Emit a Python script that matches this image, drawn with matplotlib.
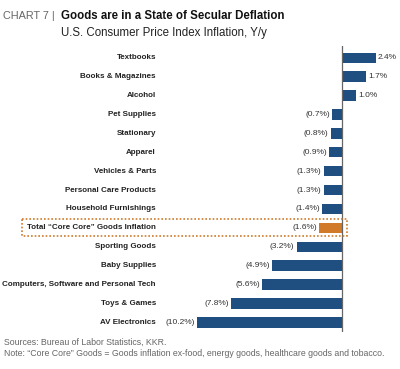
import matplotlib
matplotlib.use("Agg")
import matplotlib.pyplot as plt
import matplotlib.transforms as mtransforms
from matplotlib.patches import Rectangle

plt.rcParams['font.family'] = ['Liberation Sans', 'DejaVu Sans']

categories = ["Textbooks", "Books & Magazines", "Alcohol", "Pet Supplies", "Stationary",
              "Apparel", "Vehicles & Parts", "Personal Care Products", "Household Furnishings",
              "Total \u201cCore Core\u201d Goods Inflation", "Sporting Goods", "Baby Supplies",
              "Computers, Software and Personal Tech", "Toys & Games", "AV Electronics"]
values = [2.4, 1.7, 1.0, -0.7, -0.8, -0.9, -1.3, -1.3, -1.4, -1.6, -3.2, -4.9, -5.6, -7.8, -10.2]
highlight = "Total \u201cCore Core\u201d Goods Inflation"

W, H = 400, 369
fig = plt.figure(figsize=(W / 100, H / 100), dpi=100)
ax_left, ax_right, ax_top, ax_bot = 160, 395, 46, 332
ax = fig.add_axes([ax_left / W, 1 - ax_bot / H, (ax_right - ax_left) / W, (ax_bot - ax_top) / H])

blue = "#1f4e80"
orange = "#d07a2a"
pos = list(range(len(categories)))
colors = [orange if c == highlight else blue for c in categories]
ax.barh(pos, values, height=0.55, color=colors, edgecolor="none", zorder=2)

scale = 14.2  # px per percent
zero_px = 342
ax.set_xlim((ax_left - zero_px) / scale, (ax_right - zero_px) / scale)
ax.set_ylim(14.51, -0.62)
ax.axvline(0, color="#666666", lw=0.9, zorder=3)
for s in ax.spines.values():
    s.set_visible(False)
ax.set_xticks([])
ax.set_yticks([])

trans = mtransforms.blended_transform_factory(fig.transFigure, ax.transData)
for p, c, v in zip(pos, categories, values):
    ax.text(156 / W, p, c, transform=trans, ha="right", va="center",
            fontsize=5.8, fontweight="bold", color="#222222")
    if v >= 0:
        ax.text(v + 0.12, p, f"{v:.1f}%", ha="left", va="center", fontsize=6, color="#333333")
    else:
        ax.text(v - 0.15, p, f"({abs(v):.1f}%)", ha="right", va="center", fontsize=6, color="#333333")

hi = categories.index(highlight)
rect = Rectangle((22 / W, hi - 0.45), (347 - 22) / W, 0.9, transform=trans, fill=False,
                 edgecolor=orange, lw=1.2, linestyle=(0, (1, 1.2)), clip_on=False, zorder=4)
fig.add_artist(rect)

fig.text(3 / W, 1 - 16 / H, "CHART 7 |", fontsize=7.8, color="#666666", va="center", ha="left")
fig.text(61 / W, 1 - 16 / H, "Goods are in a State of Secular Deflation", fontsize=8.3,
         fontweight="bold", color="#111111", va="center", ha="left")
fig.text(61 / W, 1 - 33 / H, "U.S. Consumer Price Index Inflation, Y/y", fontsize=8.3,
         color="#222222", va="center", ha="left")

fig.text(4 / W, 1 - 342 / H, "Sources: Bureau of Labor Statistics, KKR.", fontsize=6.3,
         color="#666666", va="center", ha="left")
fig.text(4 / W, 1 - 353 / H,
         "Note: \u201cCore Core\u201d Goods = Goods inflation ex-food, energy goods, healthcare goods and tobacco.",
         fontsize=6.3, color="#666666", va="center", ha="left")

fig.savefig("out.png", dpi=100)
